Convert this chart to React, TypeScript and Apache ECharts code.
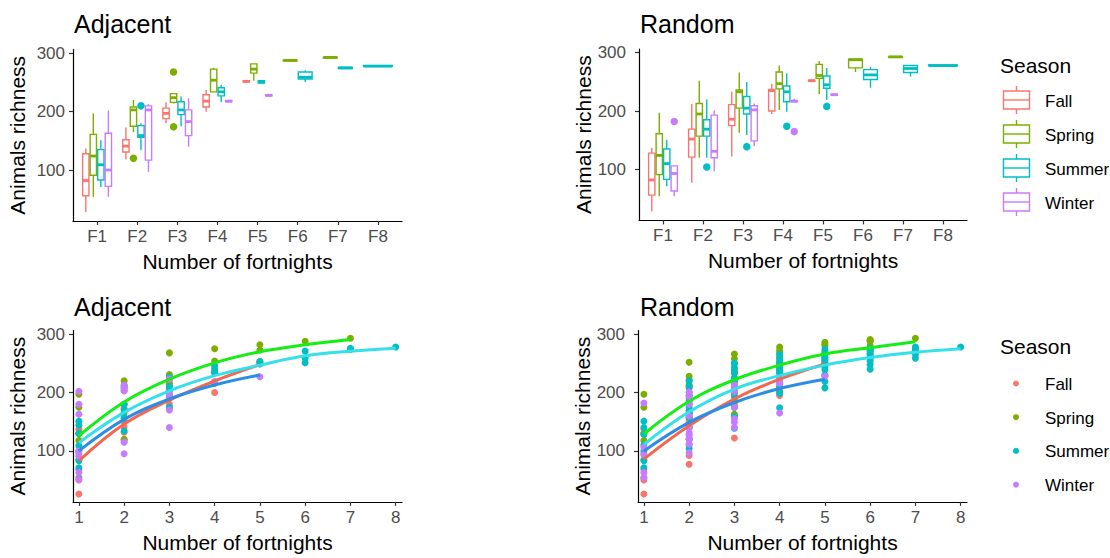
import React, { useEffect, useRef } from "react";
import * as echarts from "echarts";

const FONT = '"Liberation Sans", Arial, Helvetica, sans-serif';

const seasons = ["Fall", "Spring", "Summer", "Winter"];
const seasonColors = ["#F8766D", "#7CAE00", "#00BFC4", "#C77CFF"];
const curveColors = ["#F4674F", "#14EE14", "#35E0EA", "#2B8EE4"];
const panelTitles = ["Adjacent", "Random", "Adjacent", "Random"];
const fortnightTicks = [1, 2, 3, 4, 5, 6, 7, 8];
const fortnightLabels = ["F1", "F2", "F3", "F4", "F5", "F6", "F7", "F8"];
const richnessTicks = [100, 200, 300];
const legendTitle = "Season";
const xTitle = "Number of fortnights";
const yTitle = "Animals richness";

// Box statistics: [fortnight, min, q1, median, q3, max]
const adjFallBox = [
  [1, 28, 56, 82, 128, 137],
  [2, 118, 131, 141, 152, 173],
  [3, 180, 188, 197, 206, 216],
  [4, 200, 208, 218, 229, 237],
  [5, 251, 251, 252, 253, 253],
];
const adjSpringBox = [
  [1, 54, 91, 124, 161, 197],
  [2, 165, 175, 203, 208, 220],
  [3, 214, 216, 224, 231, 231],
  [4, 234, 234, 254, 273, 275],
  [5, 253, 266, 273, 282, 282],
  [6, 287, 287, 288, 288, 288],
  [7, 292, 292, 293, 293, 293],
];
const adjSummerBox = [
  [1, 71, 83, 109, 135, 151],
  [2, 134, 156, 159, 176, 180],
  [3, 175, 195, 203, 217, 226],
  [4, 216, 227, 234, 241, 246],
  [5, 249, 249, 251, 253, 253],
  [6, 251, 256, 259, 268, 271],
  [7, 274, 274, 275, 276, 276],
  [8, 278, 278, 278, 279, 279],
];
const adjWinterBox = [
  [1, 54, 72, 100, 163, 202],
  [2, 97, 117, 203, 210, 213],
  [3, 140, 159, 183, 203, 223],
  [4, 217, 217, 218, 219, 219],
  [5, 227, 227, 228, 229, 229],
];
// Outliers: [fortnight, richness]
const adjFallOut: number[][] = [];
const adjSpringOut = [[2, 120], [3, 174], [3, 268]];
const adjSummerOut = [[2, 210]];
const adjWinterOut: number[][] = [];

const rndFallBox = [
  [1, 28, 56, 82, 128, 137],
  [2, 77, 121, 152, 169, 212],
  [3, 122, 175, 186, 211, 233],
  [4, 195, 200, 235, 237, 247],
  [5, 251, 251, 252, 253, 253],
];
const rndSpringBox = [
  [1, 54, 91, 124, 161, 197],
  [2, 120, 157, 195, 213, 252],
  [3, 163, 205, 233, 236, 266],
  [4, 202, 238, 247, 267, 278],
  [5, 229, 256, 261, 280, 286],
  [6, 267, 274, 288, 289, 289],
  [7, 292, 292, 293, 293, 293],
];
const rndSummerBox = [
  [1, 71, 83, 110, 135, 151],
  [2, 120, 157, 169, 185, 220],
  [3, 159, 195, 205, 225, 250],
  [4, 199, 216, 233, 243, 265],
  [5, 219, 239, 245, 260, 274],
  [6, 240, 254, 262, 271, 276],
  [7, 259, 266, 273, 278, 278],
  [8, 278, 278, 278, 279, 279],
];
const rndWinterBox = [
  [1, 54, 63, 93, 106, 106],
  [2, 97, 120, 131, 193, 201],
  [3, 140, 149, 202, 209, 213],
  [4, 216, 216, 217, 218, 221],
  [5, 227, 227, 228, 229, 229],
];
const rndFallOut: number[][] = [];
const rndSpringOut: number[][] = [];
const rndSummerOut = [[2, 104], [3, 139], [4, 174], [5, 208]];
const rndWinterOut = [[1, 182], [4, 165]];

// Raw points: [fortnight, richness]
const adjFallPts = [
  [1, 26], [1, 50], [1, 68], [1, 95], [1, 130], [1, 137],
  [2, 118], [2, 132], [2, 141], [2, 150], [2, 173],
  [3, 180], [3, 190], [3, 197], [3, 205], [3, 216],
  [4, 200], [4, 218], [4, 237],
  [5, 252],
];
const adjSpringPts = [
  [1, 54], [1, 85], [1, 118], [1, 130], [1, 175], [1, 197],
  [2, 120], [2, 165], [2, 180], [2, 203], [2, 207], [2, 212], [2, 220],
  [3, 174], [3, 214], [3, 222], [3, 226], [3, 231], [3, 268],
  [4, 234], [4, 254], [4, 275],
  [5, 253], [5, 273], [5, 282],
  [6, 288],
  [7, 293],
];
const adjSummerPts = [
  [1, 71], [1, 83], [1, 100], [1, 109], [1, 130], [1, 144], [1, 151],
  [2, 134], [2, 156], [2, 158], [2, 170], [2, 180], [2, 210],
  [3, 175], [3, 195], [3, 203], [3, 210], [3, 226],
  [4, 216], [4, 234], [4, 241], [4, 246],
  [5, 249], [5, 253],
  [6, 251], [6, 259], [6, 271],
  [7, 274], [7, 276],
  [8, 278],
];
const adjWinterPts = [
  [1, 51], [1, 63], [1, 91], [1, 100], [1, 163], [1, 180], [1, 202],
  [2, 95], [2, 115], [2, 203], [2, 208], [2, 213],
  [3, 140], [3, 170], [3, 196], [3, 223],
  [4, 217], [4, 219],
  [5, 227],
];

const rndFallPts = [
  [1, 26], [1, 50], [1, 68], [1, 95], [1, 130], [1, 137],
  [2, 77], [2, 92], [2, 110], [2, 121], [2, 128], [2, 140], [2, 148], [2, 152], [2, 158], [2, 165], [2, 170], [2, 190], [2, 212],
  [3, 122], [3, 160], [3, 175], [3, 180], [3, 186], [3, 192], [3, 200], [3, 211], [3, 220], [3, 233],
  [4, 195], [4, 200], [4, 210], [4, 235], [4, 237], [4, 247],
  [5, 252],
];
const rndSpringPts = [
  [1, 54], [1, 85], [1, 118], [1, 130], [1, 175], [1, 197],
  [2, 120], [2, 140], [2, 157], [2, 165], [2, 180], [2, 195], [2, 200], [2, 208], [2, 213], [2, 222], [2, 228], [2, 252],
  [3, 163], [3, 185], [3, 205], [3, 215], [3, 225], [3, 233], [3, 235], [3, 240], [3, 250], [3, 258], [3, 266],
  [4, 202], [4, 238], [4, 242], [4, 247], [4, 252], [4, 260], [4, 267], [4, 272], [4, 278],
  [5, 229], [5, 250], [5, 256], [5, 261], [5, 270], [5, 280], [5, 283], [5, 286],
  [6, 267], [6, 274], [6, 280], [6, 288], [6, 289], [6, 291],
  [7, 293],
];
const rndSummerPts = [
  [1, 71], [1, 83], [1, 100], [1, 110], [1, 128], [1, 140], [1, 151],
  [2, 104], [2, 120], [2, 140], [2, 157], [2, 163], [2, 169], [2, 175], [2, 185], [2, 195], [2, 210], [2, 220],
  [3, 139], [3, 159], [3, 175], [3, 195], [3, 200], [3, 205], [3, 212], [3, 220], [3, 225], [3, 235], [3, 243], [3, 250],
  [4, 174], [4, 199], [4, 210], [4, 216], [4, 224], [4, 233], [4, 238], [4, 243], [4, 252], [4, 258], [4, 265],
  [5, 208], [5, 219], [5, 230], [5, 239], [5, 244], [5, 250], [5, 256], [5, 260], [5, 267], [5, 274],
  [6, 240], [6, 248], [6, 254], [6, 258], [6, 262], [6, 266], [6, 271], [6, 274], [6, 276],
  [7, 259], [7, 266], [7, 270], [7, 273], [7, 276], [7, 278],
  [8, 278],
];
const rndWinterPts = [
  [1, 54], [1, 63], [1, 93], [1, 106], [1, 182],
  [2, 97], [2, 112], [2, 120], [2, 126], [2, 131], [2, 140], [2, 160], [2, 180], [2, 193], [2, 201],
  [3, 140], [3, 149], [3, 155], [3, 175], [3, 202], [3, 205], [3, 209], [3, 213],
  [4, 165], [4, 216], [4, 217], [4, 221],
  [5, 228],
];

// Fitted curves: [fortnight, richness]
const adjFallCurve = [[1, 83], [2, 146], [3, 187], [4, 220], [5, 248]];
const adjSpringCurve = [[1, 126], [2, 184], [3, 223], [4, 251], [5, 270], [6, 282], [7, 291]];
const adjSummerCurve = [[1, 114], [2, 166], [3, 203], [4, 229], [5, 247], [6, 263], [7, 271], [8, 276]];
const adjWinterCurve = [[1, 100], [2, 154], [3, 189], [4, 213], [5, 230]];
const rndFallCurve = [[1, 86], [2, 143], [3, 189], [4, 223], [5, 249]];
const rndSpringCurve = [[1, 129], [2, 185], [3, 222], [4, 247], [5, 266], [6, 277], [7, 287]];
const rndSummerCurve = [[1, 111], [2, 167], [3, 206], [4, 229], [5, 247], [6, 260], [7, 269], [8, 275]];
const rndWinterCurve = [[1, 100], [2, 149], [3, 183], [4, 207], [5, 223]];

const adjBoxes = [adjFallBox, adjSpringBox, adjSummerBox, adjWinterBox];
const adjOuts = [adjFallOut, adjSpringOut, adjSummerOut, adjWinterOut];
const rndBoxes = [rndFallBox, rndSpringBox, rndSummerBox, rndWinterBox];
const rndOuts = [rndFallOut, rndSpringOut, rndSummerOut, rndWinterOut];
const adjPts = [adjFallPts, adjSpringPts, adjSummerPts, adjWinterPts];
const rndPts = [rndFallPts, rndSpringPts, rndSummerPts, rndWinterPts];
const adjCurves = [adjFallCurve, adjSpringCurve, adjSummerCurve, adjWinterCurve];
const rndCurves = [rndFallCurve, rndSpringCurve, rndSummerCurve, rndWinterCurve];

const DODGE = 0.75;

function dodge(boxes: number[][][], si: number, f: number) {
  const present = boxes
    .map((b, i) => (b.some((r) => r[0] === f) ? i : -1))
    .filter((i) => i >= 0);
  const n = Math.max(present.length, 1);
  const k = Math.max(present.indexOf(si), 0);
  const w = DODGE / n;
  return { cx: f - DODGE / 2 + (k + 0.5) * w, w };
}

const grids = [
  { left: 73, top: 49.6, width: 329, height: 171.4 },
  { left: 639, top: 49, width: 328, height: 171.4 },
  { left: 73, top: 330.5, width: 329, height: 171.4 },
  { left: 638, top: 330.5, width: 329, height: 171.4 },
];

function buildOption() {
  const xAxes = [0, 1, 2, 3].map((i) => {
    const isBox = i < 2;
    return {
      type: "value",
      gridIndex: i,
      min: isBox ? 0.4 : 0.87,
      max: isBox ? 8.6 : 8.14,
      name: xTitle,
      nameLocation: "middle",
      nameGap: 30,
      nameTextStyle: { fontSize: 21, color: "#000", fontFamily: FONT, verticalAlign: "top" },
      axisLine: { show: true, onZero: false, lineStyle: { color: "#000", width: 1.2 } },
      axisTick: { show: true, length: 4, customValues: fortnightTicks, lineStyle: { color: "#333", width: 1.2 } },
      axisLabel: {
        customValues: fortnightTicks,
        fontSize: 17,
        color: "#4D4D4D",
        fontFamily: FONT,
        margin: 7,
        formatter: (v: number) =>
          isBox ? fortnightLabels[fortnightTicks.indexOf(Math.round(v))] : String(Math.round(v)),
      },
      splitLine: { show: false },
    };
  });
  const yAxes = [0, 1, 2, 3].map((i) => ({
    type: "value",
    gridIndex: i,
    min: 12.6,
    max: 306.4,
    name: yTitle,
    nameLocation: "middle",
    nameGap: 45,
    nameRotate: 90,
    nameTextStyle: { fontSize: 21, color: "#000", fontFamily: FONT },
    axisLine: { show: true, onZero: false, lineStyle: { color: "#000", width: 1.2 } },
    axisTick: { show: true, length: 4, customValues: richnessTicks, lineStyle: { color: "#333", width: 1.2 } },
    axisLabel: {
      customValues: richnessTicks,
      fontSize: 17,
      color: "#4D4D4D",
      fontFamily: FONT,
      margin: i % 2 === 0 ? 8 : 13,
    },
    splitLine: { show: false },
  }));

  const series: any[] = [];
  [adjBoxes, rndBoxes].forEach((boxes, p) => {
    const outs = p === 0 ? adjOuts : rndOuts;
    boxes.forEach((stats, si) => {
      const color = seasonColors[si];
      series.push({
        type: "custom",
        name: seasons[si],
        xAxisIndex: p,
        yAxisIndex: p,
        silent: true,
        clip: false,
        encode: { x: 0, y: [1, 2, 3, 4, 5] },
        data: stats,
        renderItem: (params: any, api: any) => {
          const f = api.value(0);
          const { cx, w } = dodge(boxes, si, f);
          const tl = api.coord([cx - w / 2, api.value(4)]);
          const br = api.coord([cx + w / 2, api.value(2)]);
          const md = api.coord([cx, api.value(3)]);
          const hi = api.coord([cx, api.value(5)]);
          const lo = api.coord([cx, api.value(1)]);
          const inset = 0.6;
          const st = { stroke: color, lineWidth: 1.4, fill: "none" };
          return {
            type: "group",
            children: [
              { type: "line", shape: { x1: hi[0], y1: hi[1], x2: hi[0], y2: tl[1] }, style: st },
              { type: "line", shape: { x1: lo[0], y1: br[1], x2: lo[0], y2: lo[1] }, style: st },
              {
                type: "rect",
                shape: { x: tl[0] + inset, y: tl[1], width: br[0] - tl[0] - 2 * inset, height: Math.max(br[1] - tl[1], 0) },
                style: { fill: "#fff", stroke: color, lineWidth: 1.4 },
              },
              {
                type: "line",
                shape: { x1: tl[0] + inset, y1: md[1], x2: br[0] - inset, y2: md[1] },
                style: { stroke: color, lineWidth: 2.8 },
              },
            ],
          };
        },
      });
      if (outs[si].length) {
        series.push({
          type: "scatter",
          xAxisIndex: p,
          yAxisIndex: p,
          silent: true,
          symbolSize: 7.5,
          itemStyle: { color, opacity: 1 },
          data: outs[si].map(([f, v]) => [dodge(boxes, si, f).cx, v]),
        });
      }
    });
  });

  [adjPts, rndPts].forEach((pts, k) => {
    const p = k + 2;
    pts.forEach((d, si) => {
      series.push({
        type: "scatter",
        xAxisIndex: p,
        yAxisIndex: p,
        silent: true,
        symbolSize: 7,
        itemStyle: { color: seasonColors[si], opacity: 1 },
        data: d,
      });
    });
  });
  [adjCurves, rndCurves].forEach((curves, k) => {
    const p = k + 2;
    curves.forEach((d, si) => {
      series.push({
        type: "line",
        xAxisIndex: p,
        yAxisIndex: p,
        silent: true,
        smooth: 0.4,
        showSymbol: false,
        symbol: "none",
        z: 5,
        lineStyle: { color: curveColors[si], width: 3 },
        data: d,
      });
    });
  });

  const titlePos = [
    { left: 74, top: 11 },
    { left: 640, top: 11 },
    { left: 74, top: 294 },
    { left: 640, top: 294 },
  ];
  const title = panelTitles.map((t, i) => ({
    text: t,
    left: titlePos[i].left,
    top: titlePos[i].top,
    padding: 0,
    textStyle: { fontSize: 25, fontWeight: "normal", color: "#000", fontFamily: FONT },
  }));

  const graphic: any[] = [];
  // Box legend
  graphic.push({
    type: "text",
    left: 1000,
    top: 55,
    style: { text: legendTitle, fontSize: 21, fill: "#000", fontFamily: FONT },
  });
  seasons.forEach((s, i) => {
    const cy = 100 + 34 * i;
    const c = seasonColors[i];
    graphic.push({ type: "line", shape: { x1: 1016.5, y1: cy - 14, x2: 1016.5, y2: cy + 14 }, style: { stroke: c, lineWidth: 1.4 } });
    graphic.push({ type: "rect", shape: { x: 1003.5, y: cy - 9, width: 26, height: 18 }, style: { fill: "#fff", stroke: c, lineWidth: 1.4 } });
    graphic.push({ type: "line", shape: { x1: 1003.5, y1: cy, x2: 1029.5, y2: cy }, style: { stroke: c, lineWidth: 1.4 } });
    graphic.push({
      type: "text",
      x: 1045,
      y: cy + 1,
      style: { text: s, fontSize: 17, fill: "#000", fontFamily: FONT, verticalAlign: "middle" },
    });
  });
  // Point legend
  graphic.push({
    type: "text",
    left: 1000,
    top: 336,
    style: { text: legendTitle, fontSize: 21, fill: "#000", fontFamily: FONT },
  });
  seasons.forEach((s, i) => {
    const cy = 383.5 + 33.7 * i;
    graphic.push({ type: "circle", shape: { cx: 1016, cy, r: 3 }, style: { fill: seasonColors[i] } });
    graphic.push({
      type: "text",
      x: 1045,
      y: cy + 1,
      style: { text: s, fontSize: 17, fill: "#000", fontFamily: FONT, verticalAlign: "middle" },
    });
  });

  return {
    animation: false,
    backgroundColor: "#fff",
    textStyle: { fontFamily: FONT },
    title,
    grid: grids.map((g) => ({ ...g, containLabel: false })),
    xAxis: xAxes,
    yAxis: yAxes,
    series,
    graphic,
  };
}

export default function App() {
  const ref = useRef<HTMLDivElement>(null);
  useEffect(() => {
    if (!ref.current) return;
    const chart = echarts.init(ref.current, undefined, { renderer: "svg" });
    chart.setOption(buildOption() as any);
    return () => chart.dispose();
  }, []);
  return (
    <div
      ref={ref}
      style={{ position: "absolute", left: 0, top: 0, width: 1110, height: 558, background: "#fff" }}
    />
  );
}
